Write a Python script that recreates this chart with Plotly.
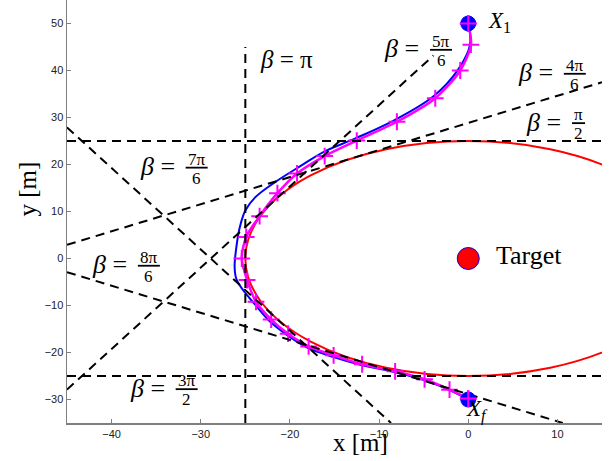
import plotly.graph_objects as go

# ---------------- data ----------------
# magenta trajectory (with + markers)
MAG_X = [0.0, 0.3, -0.9, -3.7, -8.0, -12.5, -16.1, -19.2, -21.4, -23.4, -24.9, -25.4,
         -24.8, -23.8, -22.1, -20.2, -17.9, -15.1, -11.9, -8.2, -4.9, -2.1, 0.0]
MAG_Y = [50.0, 45.5, 40.0, 34.1, 29.1, 25.1, 21.8, 18.1, 13.9, 9.0, 4.6, 0.0,
         -4.6, -9.2, -13.0, -16.0, -18.7, -20.6, -22.5, -24.0, -25.7, -27.9, -29.8]

# blue trajectory
BLUE_X = [0.0, 0.2, -1.1, -3.9, -8.2, -12.6, -16.3, -18.7, -21.7, -23.9, -25.0, -25.6,
          -26.0, -26.2, -26.0, -25.3, -24.0, -22.3, -20.3, -18.0, -15.2, -11.9, -8.2,
          -4.9, -2.1, 0.0]
BLUE_Y = [50.0, 45.5, 40.3, 34.5, 29.5, 25.6, 22.6, 19.8, 16.2, 13.0, 10.2, 6.8,
          2.5, -1.8, -4.4, -6.6, -9.6, -13.3, -16.3, -19.0, -20.9, -22.7, -24.2,
          -25.9, -28.0, -30.0]

# target and its safety circle
TARGET_X = [0.0]
TARGET_Y = [0.0]
SAFE_RADIUS = 25.0

# start / final points
POINT_NAMES = ["X1", "Xf"]
POINT_X = [0.0, 0.0]
POINT_Y = [50.0, -30.0]

# tangent (beta) lines: end points
BETA_NAMES = ["π/2", "4π/6", "5π/6", "π", "7π/6", "8π/6", "3π/2"]
BETA_X0 = [-45.0, -45.0, -45.0, -25.0, -45.0, -45.0, -45.0]
BETA_Y0 = [25.0, 2.9, -27.9, -35.0, 27.9, -2.9, -25.0]
BETA_X1 = [15.0, 15.0, -3.9, -25.0, -8.66, 10.6, 15.0]
BETA_Y1 = [25.0, 37.5, 43.2, 45.0, -35.0, -35.0, -25.0]

# beta labels: numerator / denominator
LABEL_NUM = ["π", "4π", "5π", "π", "7π", "8π", "3π"]
LABEL_DEN = ["2", "6", "6", "", "6", "6", "2"]

X_TICKS = [-40, -30, -20, -10, 0, 10]
Y_TICKS = [-30, -20, -10, 0, 10, 20, 30, 40, 50]

# ---------------- figure ----------------
SERIF = "Liberation Serif, Times New Roman, serif"
SANS = "Liberation Sans, Arial, sans-serif"

fig = go.Figure()

# red safety circle (layout shape on data axes)
fig.add_shape(type="circle", xref="x", yref="y",
              x0=TARGET_X[0] - SAFE_RADIUS, x1=TARGET_X[0] + SAFE_RADIUS,
              y0=TARGET_Y[0] - SAFE_RADIUS, y1=TARGET_Y[0] + SAFE_RADIUS,
              line=dict(color="#ff0000", width=2), layer="below")

fig.add_trace(go.Scatter(x=BLUE_X, y=BLUE_Y, mode="lines",
                         line=dict(color="#0000ff", width=2, shape="spline", smoothing=1.0),
                         hoverinfo="skip"))
fig.add_trace(go.Scatter(x=MAG_X, y=MAG_Y, mode="lines+markers",
                         line=dict(color="#ff00ff", width=2.5, shape="spline", smoothing=0.8),
                         marker=dict(symbol="cross-thin", size=12, color="#ff00ff",
                                     line=dict(color="#ff00ff", width=2)),
                         hoverinfo="skip"))

for i in range(len(BETA_NAMES)):
    fig.add_trace(go.Scatter(x=[BETA_X0[i], BETA_X1[i]], y=[BETA_Y0[i], BETA_Y1[i]],
                             mode="lines", line=dict(color="black", width=2, dash="9px,6px"),
                             hoverinfo="skip"))

# start / final points
fig.add_trace(go.Scatter(x=POINT_X, y=POINT_Y, mode="markers",
                         marker=dict(symbol="circle", size=15, color="#0000ff",
                                     line=dict(color="#0000ff", width=1)),
                         hoverinfo="skip"))
fig.add_trace(go.Scatter(x=[POINT_X[0], MAG_X[-1]], y=[POINT_Y[0], MAG_Y[-1]], mode="markers",
                         marker=dict(symbol="cross-thin", size=12, color="#ff00ff",
                                     line=dict(color="#ff00ff", width=2)),
                         hoverinfo="skip"))

# target
fig.add_trace(go.Scatter(x=TARGET_X, y=TARGET_Y, mode="markers",
                         marker=dict(symbol="circle", size=22, color="#ff0000",
                                     line=dict(color="#0000ff", width=1)),
                         hoverinfo="skip"))

ann = []
ann.append(dict(x=2.9, y=TARGET_Y[0], xref="x", yref="y", text="Target", showarrow=False,
                xanchor="left", yanchor="middle", yshift=3,
                font=dict(family=SERIF, size=26, color="black")))
ann.append(dict(x=2.0, y=POINT_Y[0], xref="x", yref="y", text="<i>X</i><sub>1</sub>",
                showarrow=False, xanchor="left", yanchor="middle", yshift=2,
                font=dict(family=SERIF, size=23, color="black")))
ann.append(dict(x=-0.45, y=POINT_Y[1], xref="x", yref="y", text="<i>X</i><sub><i>f</i></sub>",
                showarrow=False, xanchor="left", yanchor="middle", yshift=-11,
                font=dict(family=SERIF, size=23, color="black")))

# beta label anchor positions (centre of fraction bar)
LABEL_POS = {
    "π/2": (12.37, 28.8),
    "4π/6": (11.95, 39.3),
    "5π/6": (-3.05, 44.4),
    "7π/6": (-30.46, 19.33),
    "8π/6": (-35.82, -1.54),
    "3π/2": (-31.58, -27.8),
}
for i, name in enumerate(BETA_NAMES):
    if LABEL_DEN[i] == "":
        ann.append(dict(x=-23.6, y=42.3, xref="x", yref="y",
                        text="<i>β</i> = " + LABEL_NUM[i], showarrow=False,
                        xanchor="left", yanchor="middle",
                        font=dict(family=SERIF, size=25, color="black")))
        continue
    cx, cy = LABEL_POS[name]
    half = 6.5 if len(LABEL_NUM[i]) == 1 else 11
    ann.append(dict(x=cx, y=cy, xref="x", yref="y", text="<i>β</i> =", showarrow=False,
                    xanchor="right", yanchor="middle", xshift=-(half + 9), yshift=1,
                    font=dict(family=SERIF, size=26, color="black")))
    ann.append(dict(x=cx, y=cy, xref="x", yref="y", text=LABEL_NUM[i], showarrow=False,
                    xanchor="center", yanchor="bottom", yshift=-3,
                    font=dict(family=SERIF, size=17, color="black")))
    ann.append(dict(x=cx, y=cy, xref="x", yref="y", text=LABEL_DEN[i], showarrow=False,
                    xanchor="center", yanchor="top", yshift=1,
                    font=dict(family=SERIF, size=17, color="black")))
    fig.add_shape(type="line", xref="x", yref="y", xsizemode="pixel", ysizemode="pixel",
                  xanchor=cx, yanchor=cy, x0=-half, x1=half, y0=0, y1=0,
                  line=dict(color="black", width=1.8))

# axis titles
ann.append(dict(x=0.548, y=-0.045, xref="paper", yref="paper", text="x [m]", showarrow=False,
                xanchor="center", yanchor="middle",
                font=dict(family=SERIF, size=25, color="black")))
ann.append(dict(x=-0.074, y=0.553, xref="paper", yref="paper", text="y [m]", showarrow=False,
                xanchor="center", yanchor="middle", textangle=-90,
                font=dict(family=SERIF, size=25, color="black")))

fig.update_layout(
    width=613, height=461,
    margin=dict(l=67, r=11, t=0, b=38, pad=0),
    paper_bgcolor="white", plot_bgcolor="white",
    showlegend=False,
    annotations=ann,
    xaxis=dict(range=[-45, 15], tickvals=X_TICKS, showgrid=False, zeroline=False,
               showline=True, linecolor="#7f7f7f", linewidth=1.5, automargin=False,
               ticks="inside", ticklen=4, tickcolor="#7f7f7f",
               tickfont=dict(family=SANS, size=11, color="#222222")),
    yaxis=dict(range=[-35, 55], tickvals=Y_TICKS, showgrid=False, zeroline=False,
               showline=True, linecolor="#7f7f7f", linewidth=1.5, automargin=False,
               ticks="inside", ticklen=4, tickcolor="#7f7f7f",
               tickfont=dict(family=SANS, size=11, color="#222222")),
)

fig.write_html("out.html", config={"displayModeBar": False, "staticPlot": True},
               post_script="document.body.style.margin='0px';document.body.style.overflow='hidden';")
